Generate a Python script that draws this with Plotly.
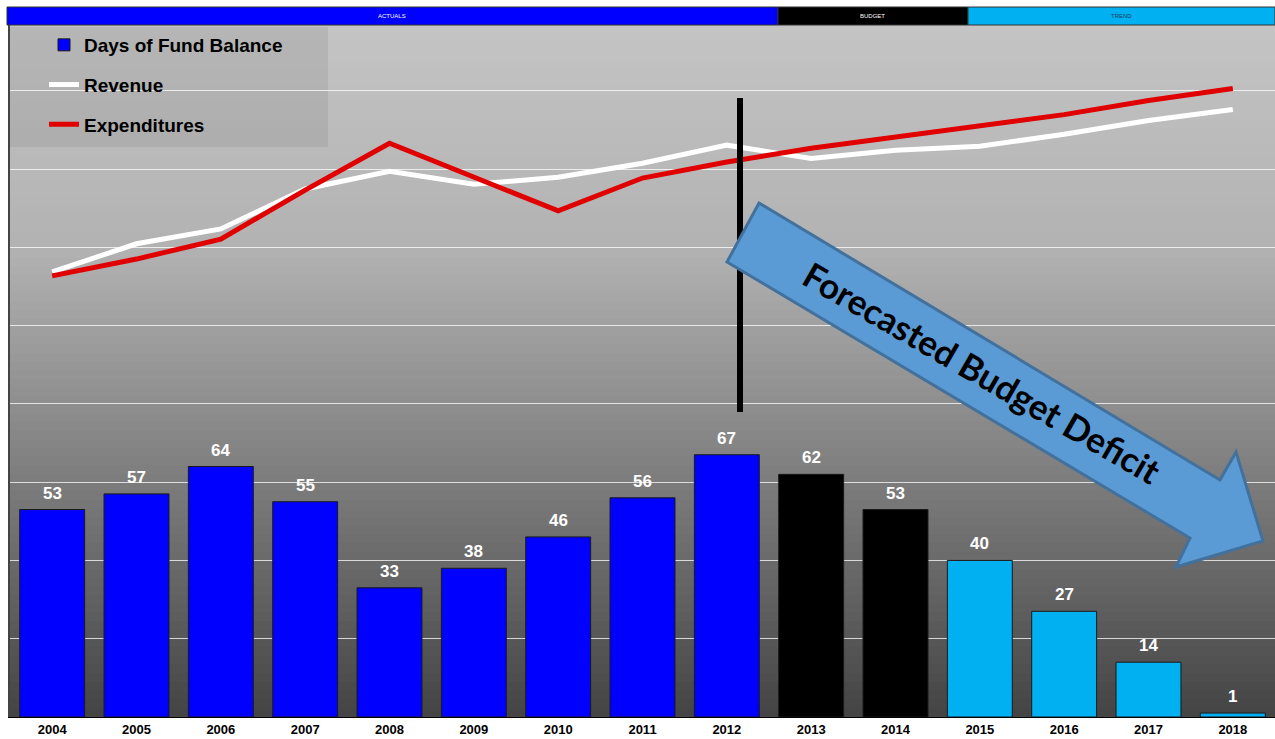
import plotly.graph_objects as go

# ---------------- data ----------------
years = ["2004", "2005", "2006", "2007", "2008", "2009", "2010", "2011",
         "2012", "2013", "2014", "2015", "2016", "2017", "2018"]
days_fund_balance = [53, 57, 64, 55, 33, 38, 46, 56, 67, 62, 53, 40, 27, 14, 1]
revenue = [113.7, 120.9, 124.7, 134.9, 139.4, 136.1, 137.9, 141.5, 146.1,
           142.7, 144.8, 145.8, 148.9, 152.4, 155.2]
expenditures = [112.7, 117.0, 122.1, 134.6, 146.6, 137.9, 129.3, 137.7, 141.8,
                145.3, 148.1, 151.1, 153.9, 157.5, 160.6]
phase = ["Actual"] * 9 + ["Budget"] * 2 + ["Trend"] * 4
phase_colors = {"Actual": "#0000FF", "Budget": "#000000", "Trend": "#00B0F0"}

# ---------------- geometry helpers (pixels -> paper) ----------------
W, H = 1275, 739
ML, MR, MT, MB = 10, 0, 25, 22
PW, PH = W - ML - MR, H - MT - MB
YMAX = 176.8


def px(x):
    return (x - ML) / PW


def py(y):
    return (H - MB - y) / PH


arial = "Liberation Sans, Arial, sans-serif"

fig = go.Figure()

fig.add_trace(go.Bar(
    x=years, y=days_fund_balance, name="Days of Fund Balance",
    marker=dict(color=[phase_colors[p] for p in phase],
                line=dict(color="#1a1a1a", width=1)),
    legendgroup="a",
))
fig.add_trace(go.Scatter(
    x=years, y=revenue, name="Revenue", mode="lines", yaxis="y2",
    line=dict(color="white", width=5), legendgroup="b",
))
fig.add_trace(go.Scatter(
    x=years, y=expenditures, name="Expenditures", mode="lines", yaxis="y2",
    line=dict(color="#E00000", width=5), legendgroup="c",
))

shapes = []
annotations = []
# bar value labels (category index positions on the x axis)
for i, v in enumerate(days_fund_balance):
    annotations.append(dict(x=i, y=v, xref="x", yref="y", text=str(v),
                            showarrow=False, xanchor="center",
                            yanchor="bottom", yshift=5,
                            font=dict(size=17, color="white", family=arial,
                                      weight="bold")))
# background gradient
stops = [(25, 196), (250, 178), (430, 136), (620, 92), (717, 68)]
N = 80
for i in range(N):
    y0p = 25 + (717 - 25) * i / N
    y1p = 25 + (717 - 25) * (i + 1) / N
    ym = (y0p + y1p) / 2
    for (a, ca), (b, cb) in zip(stops[:-1], stops[1:]):
        if a <= ym <= b:
            c = ca + (cb - ca) * (ym - a) / (b - a)
            break
    c = int(round(c))
    shapes.append(dict(type="rect", xref="paper", yref="paper", layer="below",
                       x0=0, x1=1, y0=py(y1p) - 0.001, y1=py(y0p) + 0.001,
                       fillcolor=f"rgb({c},{c},{c})", line=dict(width=0)))
# legend panel
shapes.append(dict(type="rect", xref="paper", yref="paper", layer="below",
                   x0=px(10), x1=px(328), y0=py(147), y1=py(27),
                   fillcolor="rgba(90,90,90,0.13)", line=dict(width=0)))
# top phase band
band = [(7, 778, "#0000FF", "ACTUALS", "white"),
        (778, 968, "#000000", "BUDGET", "white"),
        (968, 1275, "#00B0F0", "TREND", "#1f3f5f")]
for x0, x1, col, lab, tcol in band:
    shapes.append(dict(type="rect", xref="paper", yref="paper",
                       x0=px(x0), x1=px(x1), y0=py(25), y1=py(7),
                       fillcolor=col, line=dict(color="#333333", width=1)))
    annotations.append(dict(xref="paper", yref="paper", x=px((x0 + x1) / 2),
                            y=py(16), text=lab, showarrow=False,
                            xanchor="center", yanchor="middle",
                            font=dict(size=6, color=tcol, family=arial)))
# vertical divider
shapes.append(dict(type="line", xref="paper", yref="paper",
                   x0=px(740), x1=px(740), y0=py(412), y1=py(98),
                   line=dict(color="black", width=6)))
# arrow
arrow_pts = [(759, 203), (1220, 480), (1236, 452), (1263, 541),
             (1176, 567), (1190, 538), (727, 262)]
path = "M " + " L ".join(f"{px(a):.4f},{py(b):.4f}" for a, b in arrow_pts) + " Z"
shapes.append(dict(type="path", xref="paper", yref="paper", path=path,
                   fillcolor="#5B9BD5", line=dict(color="#41719C", width=3)))
annotations.append(dict(xref="paper", yref="paper", x=px(982), y=py(372),
                        xanchor="center", yanchor="middle",
                        text="Forecasted Budget Deficit", showarrow=False,
                        textangle=30,
                        font=dict(size=35, color="black", weight="bold",
                                  family="Lato, Open Sans, sans-serif")))

fig.update_layout(
    width=W, height=H,
    margin=dict(l=ML, r=MR, t=MT, b=MB),
    paper_bgcolor="white", plot_bgcolor="rgba(0,0,0,0)",
    bargap=0.23,
    shapes=shapes, annotations=annotations,
    xaxis=dict(type="category", range=[-0.5, 14.5], showgrid=False,
               showline=True, linecolor="black", linewidth=1,
               ticks="", tickfont=dict(size=13, color="black", family=arial,
                                       weight="bold")),
    yaxis=dict(range=[0, YMAX], dtick=20, showgrid=True,
               gridcolor="rgba(255,255,255,0.75)", gridwidth=1,
               zeroline=False, showticklabels=False, showline=True,
               linecolor="#444444", linewidth=2),
    yaxis2=dict(range=[0, YMAX], overlaying="y", visible=False),
    showlegend=True,
    legend=dict(x=px(44), y=py(26), xanchor="left", yanchor="top",
                bgcolor="rgba(0,0,0,0)", tracegroupgap=12,
                font=dict(size=19, color="black", family=arial, weight="bold")),
)

fig.write_html("out.html", config={"displayModeBar": False},
               post_script="document.body.style.margin='0';"
                           "document.body.style.overflow='hidden';")
